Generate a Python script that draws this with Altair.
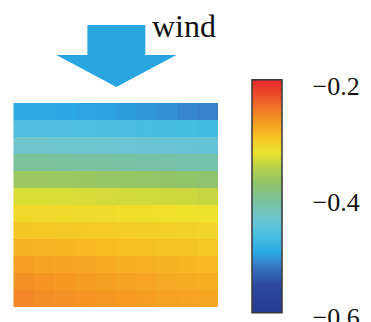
import altair as alt
import pandas as pd

# ---------------- data ----------------
# heat-map values, rows from top (windward edge) to bottom, columns left -> right
heat_rows = [
    [-0.484, -0.485, -0.486, -0.488, -0.490, -0.492, -0.495, -0.499, -0.503, -0.506],
    [-0.452, -0.452, -0.453, -0.454, -0.455, -0.456, -0.457, -0.459, -0.461, -0.463],
    [-0.426, -0.426, -0.427, -0.428, -0.429, -0.430, -0.431, -0.432, -0.434, -0.436],
    [-0.397, -0.397, -0.398, -0.399, -0.400, -0.401, -0.402, -0.403, -0.405, -0.407],
    [-0.360, -0.360, -0.361, -0.362, -0.363, -0.364, -0.365, -0.366, -0.368, -0.370],
    [-0.322, -0.322, -0.323, -0.324, -0.325, -0.326, -0.327, -0.328, -0.330, -0.332],
    [-0.304, -0.304, -0.305, -0.306, -0.307, -0.308, -0.309, -0.310, -0.311, -0.312],
    [-0.290, -0.291, -0.292, -0.293, -0.294, -0.295, -0.296, -0.297, -0.299, -0.301],
    [-0.277, -0.278, -0.279, -0.281, -0.282, -0.284, -0.285, -0.287, -0.289, -0.291],
    [-0.263, -0.265, -0.267, -0.269, -0.271, -0.273, -0.275, -0.277, -0.279, -0.281],
    [-0.255, -0.257, -0.260, -0.262, -0.264, -0.266, -0.268, -0.270, -0.272, -0.274],
    [-0.249, -0.252, -0.255, -0.257, -0.259, -0.261, -0.263, -0.265, -0.267, -0.269],
]

# colour bar
cbar_ticks = [-0.6, -0.4, -0.2]
cbar_lo, cbar_hi = -0.591, -0.188
cmap_offsets = [0.0, 0.12, 0.20, 0.26, 0.33, 0.40, 0.47, 0.55, 0.62, 0.69, 0.76, 0.82, 0.88, 0.94, 1.0]
cmap_colors = ["#273A8F", "#2C4A9E", "#3878C4", "#2BA9E4", "#48BEE2", "#6CC5D2", "#78C2A4",
               "#8EC46C", "#B5D04A", "#EDE42C", "#F7C022", "#F59A22", "#F2742A", "#EC4A2A", "#E4262A"]

wind_label = "wind"

# ---------------- tables ----------------
n_rows = len(heat_rows)
n_cols = len(heat_rows[0])
OVER = 0.06  # tiny overlap so neighbouring cells leave no anti-aliasing seams
recs = []
for j, row in enumerate(heat_rows):
    for i, v in enumerate(row):
        recs.append({
            "x": i,
            "x2": i + 1 + (OVER if i < n_cols - 1 else 0),
            "y": n_rows - 1 - j - (OVER if j < n_rows - 1 else 0),
            "y2": n_rows - j,
            "v": v,
        })
heat_df = pd.DataFrame(recs)

span = cbar_hi - cbar_lo
color_domain = [cbar_lo + o * span for o in cmap_offsets]
cscale = alt.Scale(domain=color_domain, range=cmap_colors, interpolate="rgb", clamp=True)

xs = alt.Scale(domain=[-0.660, 13.130], nice=False, zero=False)
ys = alt.Scale(domain=[-0.882, 18.059], nice=False, zero=False)
ys_bar = alt.Scale(domain=[-0.607, -0.050], nice=False, zero=False)

heat = alt.Chart(heat_df).mark_rect(strokeWidth=0).encode(
    x=alt.X("x:Q", scale=xs, axis=None),
    x2="x2:Q",
    y=alt.Y("y:Q", scale=ys, axis=None),
    y2="y2:Q",
    fill=alt.Fill("v:Q", scale=cscale, legend=None),
)

ARROW = "M-0.483,-0.517 L0.483,-0.517 L0.483,-0.017 L1,-0.017 L0,0.517 L-1,-0.017 L-0.483,-0.017 Z"
arrow_df = pd.DataFrame({"x": [5.03], "y": [14.765]})
arrow = alt.Chart(arrow_df).mark_point(
    shape=ARROW, size=14400, filled=True, color="#27A6DF", opacity=1, strokeWidth=0
).encode(
    x=alt.X("x:Q", scale=xs, axis=None),
    y=alt.Y("y:Q", scale=ys, axis=None),
)

wind_df = pd.DataFrame({"x": [6.77], "y": [15.91], "t": [wind_label]})
wind = alt.Chart(wind_df).mark_text(
    align="left", baseline="alphabetic", font="Liberation Serif", fontSize=32, color="#111111"
).encode(
    x=alt.X("x:Q", scale=xs, axis=None),
    y=alt.Y("y:Q", scale=ys, axis=None),
    text="t:N",
)

bar_df = pd.DataFrame({"x": [11.663], "x2": [13.13], "lo": [cbar_lo], "hi": [cbar_hi]})
grad = alt.LinearGradient(
    gradient="linear",
    stops=[alt.GradientStop(offset=o, color=c) for o, c in zip(cmap_offsets, cmap_colors)],
    x1=0, x2=0, y1=1, y2=0,
)
cbar = alt.Chart(bar_df).mark_rect(fill=grad, stroke="#3a3a3a", strokeWidth=1.5).encode(
    x=alt.X("x:Q", scale=xs, axis=None),
    x2="x2:Q",
    y=alt.Y("lo:Q", scale=ys_bar, axis=alt.Axis(
        orient="right", values=cbar_ticks, format=".1f", ticks=False, tickSize=0,
        domain=False, grid=False, title=None, labelFont="Liberation Serif",
        labelFontSize=26, labelColor="#111111", labelPadding=30, labelAlign="left",
        labelBaseline="middle", labelOverlap=False)),
    y2="hi:Q",
)

chart = alt.layer(alt.layer(heat, arrow, wind), cbar).resolve_scale(
    y="independent"
).properties(
    width=282, height=322,
    padding={"left": 0, "top": 0, "right": 89, "bottom": 0},
    autosize="none",
    background="white",
).configure_view(stroke=None)

chart.save("out.html", embed_options={"renderer": "svg", "actions": False})
